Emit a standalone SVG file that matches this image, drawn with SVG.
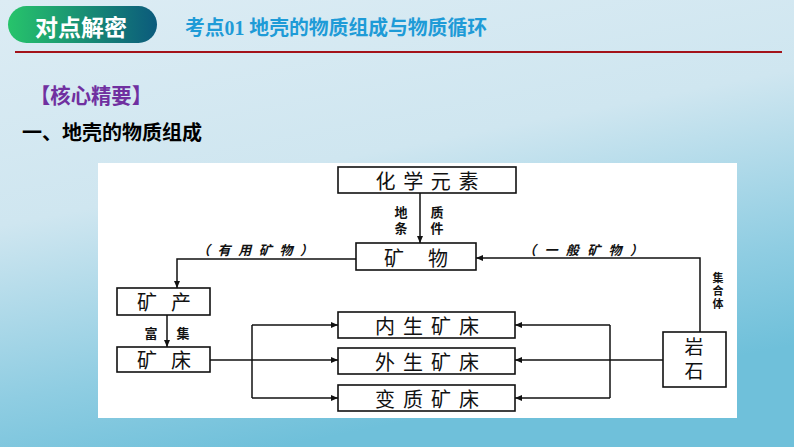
<svg xmlns="http://www.w3.org/2000/svg" width="794" height="447" viewBox="0 0 794 447">
<defs>
<linearGradient id="bg" x1="0" y1="0" x2="0.35" y2="1">
<stop offset="0" stop-color="#dcecf4"/>
<stop offset="0.45" stop-color="#cfe6f0"/>
<stop offset="0.8" stop-color="#8fcde2"/>
<stop offset="1" stop-color="#6fc0da"/>
</linearGradient>
<linearGradient id="pill" x1="0" y1="0" x2="1" y2="0">
<stop offset="0" stop-color="#27c46b"/>
<stop offset="1" stop-color="#0b5a7c"/>
</linearGradient>
<marker id="ah" markerUnits="userSpaceOnUse" markerWidth="8" markerHeight="8" refX="7" refY="4" orient="auto">
<path d="M0,1 L7,4 L0,7 z" fill="#111"/>
</marker>
<style>
.box{fill:#fff;stroke:#111;stroke-width:1.6}
.ln{fill:none;stroke:#111;stroke-width:1.5}
.t{font-family:"Noto Sans CJK SC",sans-serif;fill:#111;text-anchor:middle;dominant-baseline:central}
.v{font-family:"Noto Sans CJK SC",sans-serif;fill:#111;text-anchor:middle;writing-mode:vertical-rl}
.big{font-size:20px}
.sm{font-size:13px;font-weight:bold}
</style>
</defs>
<rect x="0" y="0" width="794" height="447" fill="url(#bg)"/>
<g id="header">
<rect x="8" y="6" width="149" height="37" rx="18.5" fill="url(#pill)"/>
<text x="81" y="26" font-family="Noto Sans CJK SC,sans-serif" font-size="23" font-weight="bold" fill="#fff" text-anchor="middle" dominant-baseline="central">对点解密</text>
<text x="185" y="28" font-family="Liberation Serif,Noto Sans CJK SC,serif" font-size="20" font-weight="bold" fill="#1e9bd7" dominant-baseline="central" textLength="302" lengthAdjust="spacingAndGlyphs">考点01 地壳的物质组成与物质循环</text>
<line x1="15" y1="52" x2="782" y2="52" stroke="#a3131a" stroke-width="2"/>
</g>
<g id="headings">
<text x="30" y="94" font-family="Noto Sans CJK SC,sans-serif" font-size="21" font-weight="bold" fill="#7030a0" dominant-baseline="central" textLength="122" lengthAdjust="spacingAndGlyphs">【核心精要】</text>
<text x="22" y="131" font-family="Noto Sans CJK SC,sans-serif" font-size="20" font-weight="bold" fill="#000" dominant-baseline="central">一、地壳的物质组成</text>
</g>
<rect id="panel" x="98" y="163" width="639" height="255" fill="#fff"/>
<g id="connectors">
<line class="ln" x1="420" y1="193" x2="420" y2="243" marker-end="url(#ah)"/>
<path class="ln" d="M356,259 H177 V288" marker-end="url(#ah)"/>
<path class="ln" d="M700,332 V258 H476" marker-end="url(#ah)"/>
<line class="ln" x1="167" y1="315" x2="167" y2="347" marker-end="url(#ah)"/>
<path class="ln" d="M210,360 H252"/>
<path class="ln" d="M252,325 V398"/>
<path class="ln" d="M252,325 H338" marker-end="url(#ah)"/>
<path class="ln" d="M252,360 H338" marker-end="url(#ah)"/>
<path class="ln" d="M252,398 H338" marker-end="url(#ah)"/>
<path class="ln" d="M663,360 H610"/>
<path class="ln" d="M610,325 V398"/>
<path class="ln" d="M610,325 H515" marker-end="url(#ah)"/>
<path class="ln" d="M610,360 H515" marker-end="url(#ah)"/>
<path class="ln" d="M610,398 H515" marker-end="url(#ah)"/>
<text class="v" x="401" y="221.5" font-size="13" font-weight="bold" letter-spacing="3">地条</text>
<text class="v" x="437" y="221.5" font-size="13" font-weight="bold" letter-spacing="3">质件</text>
<text class="t sm" x="255" y="249" textLength="116" lengthAdjust="spacing" font-weight="normal" font-style="italic">（有用矿物）</text>
<text class="t sm" x="583" y="249" textLength="120" lengthAdjust="spacing" font-weight="normal" font-style="italic">（一般矿物）</text>
<text class="v" x="718" y="292" font-size="11" font-weight="bold" letter-spacing="2">集合体</text>
<text class="t sm" x="151" y="332">富</text>
<text class="t sm" x="183" y="332">集</text>
</g>
<g id="n-elements">
<rect class="box" x="338" y="167" width="178" height="26"/>
<text class="t big" x="427" y="180" textLength="103" lengthAdjust="spacing">化学元素</text>
</g>
<g id="n-mineral">
<rect class="box" x="356" y="243" width="120" height="27"/>
<text class="t big" x="416" y="257" textLength="64" lengthAdjust="spacing">矿物</text>
</g>
<g id="n-ore">
<rect class="box" x="117" y="288" width="93" height="27"/>
<text class="t big" x="164" y="301" textLength="54" lengthAdjust="spacing">矿产</text>
</g>
<g id="n-deposit">
<rect class="box" x="117" y="347" width="93" height="25"/>
<text class="t big" x="164" y="359" textLength="54" lengthAdjust="spacing">矿床</text>
</g>
<g id="n-endogenic">
<rect class="box" x="338" y="312" width="177" height="26"/>
<text class="t big" x="427" y="325" textLength="104" lengthAdjust="spacing">内生矿床</text>
</g>
<g id="n-exogenic">
<rect class="box" x="338" y="348" width="177" height="26"/>
<text class="t big" x="427" y="361" textLength="104" lengthAdjust="spacing">外生矿床</text>
</g>
<g id="n-metamorphic">
<rect class="box" x="338" y="385" width="177" height="26"/>
<text class="t big" x="427" y="398" textLength="104" lengthAdjust="spacing">变质矿床</text>
</g>
<g id="n-rock">
<rect class="box" x="663" y="332" width="63" height="55"/>
<text class="v" x="694" y="361.5" font-size="19" letter-spacing="5">岩石</text>
</g>
</svg>
